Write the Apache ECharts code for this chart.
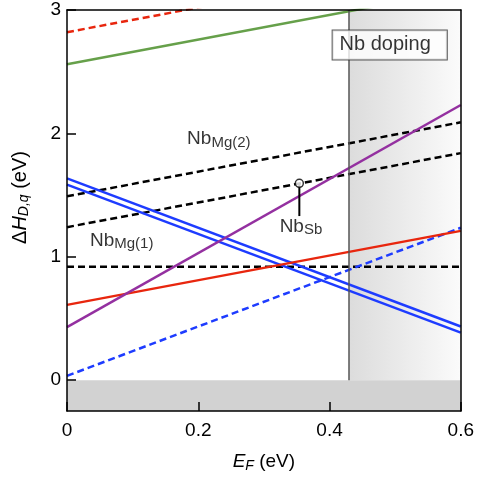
<!DOCTYPE html>
<html>
<head>
<meta charset="utf-8">
<script src="https://cdn.jsdelivr.net/npm/echarts@6/dist/echarts.min.js"></script>
<style>html,body{margin:0;padding:0;background:#fff}#c{width:477px;height:478px}</style>
</head>
<body>
<div id="c"></div>
<script>
// ---- data ----
const xEnds = [0, 0.6];                 // E_F range (eV)
const redDashed   = [2.82, 3.42];
const greenSolid  = [2.56, 3.16];
const nbMg2Upper  = [1.49, 2.09];
const nbMg2Lower  = [1.24, 1.84];
const nbMg1       = [0.92, 0.92];
const blueSolidA  = [1.635, 0.435];
const blueSolidB  = [1.585, 0.385];
const blueDashed  = [0.035, 1.235];
const redSolid    = [0.61, 1.21];
const purpleSolid = [0.43, 2.23];
const nbSbPoint   = [0.354, 1.595];
const nbSbPointerEnd = [0.354, 1.33];
const dopingStart = 0.43;
const xTicks = [0, 0.2, 0.4, 0.6];
const yTicks = [0, 1, 2, 3];
const labelNames = ['Nb_Mg(2)', 'Nb_Mg(1)', 'Nb_Sb', 'Nb doping'];
const labelPos = [[0.183, 1.955], [0.035, 1.13], [0.324, 1.245], [0.4917, 2.717]];

const FONT = '"Liberation Sans", Arial, Helvetica, sans-serif';

function pts(ys) { return xEnds.map((x, i) => [x, ys[i]]); }
function lineSeries(name, ys, color, dashed) {
  return {
    name, type: 'line', data: pts(ys), symbol: 'none', clip: true, z: 3,
    lineStyle: { color, width: 2.5, type: dashed ? [7, 4] : 'solid' },
    silent: true
  };
}

const chart = echarts.init(document.getElementById('c'), null, { renderer: 'canvas' });

const richMain = {
  m: { fontSize: 19, fontFamily: FONT, color: '#000', lineHeight: 22 },
  s: { fontSize: 15, fontFamily: FONT, color: '#000', lineHeight: 14, verticalAlign: 'bottom' }
};
function fmtLabel(n) {
  if (n === 'Nb doping') return n;
  const parts = n.split('_');
  return '{m|' + parts[0] + '}{s|' + parts[1] + '}';
}

const option = {
  animation: false,
  backgroundColor: '#fff',
  grid: { left: 67, right: 14, top: 10, bottom: 66, containLabel: false },
  xAxis: [{
    type: 'value', min: xEnds[0], max: xEnds[1], z: 10,
    name: '{i|E}{is|F}{n| (eV)}',
    nameLocation: 'middle', nameGap: 40,
    nameTextStyle: {
      rich: {
        i: { fontSize: 19, fontFamily: FONT, fontStyle: 'italic', color: '#000', lineHeight: 22 },
        is: { fontSize: 14, fontFamily: FONT, fontStyle: 'italic', color: '#000', lineHeight: 13, verticalAlign: 'bottom' },
        n: { fontSize: 19, fontFamily: FONT, color: '#000', lineHeight: 22 }
      }
    },
    axisLine: { show: true, onZero: false, lineStyle: { color: '#000', width: 1.5 } },
    axisTick: { show: true, inside: true, length: 9, customValues: xTicks, lineStyle: { color: '#000', width: 1.5 } },
    axisLabel: { customValues: xTicks, fontSize: 19, fontFamily: FONT, color: '#000', margin: 10,
      formatter: v => (v === 0 ? '0' : String(+v.toFixed(1))) },
    splitLine: { show: false }
  }, {
    type: 'value', position: 'top', min: xEnds[0], max: xEnds[1], z: 10,
    axisLine: { show: true, onZero: false, lineStyle: { color: '#000', width: 1.5 } },
    axisTick: { show: false }, axisLabel: { show: false }, splitLine: { show: false }
  }],
  yAxis: [{
    type: 'value', min: -0.25, max: 3, z: 10,
    name: '{d|Δ}{h|H}{hs|D,q}{n| (eV)}',
    nameLocation: 'middle', nameGap: 36, nameRotate: 90,
    nameTextStyle: {
      padding: [0, 0, 0, 26],
      rich: {
        d: { fontSize: 20, fontFamily: FONT, color: '#000', lineHeight: 22 },
        h: { fontSize: 20, fontFamily: FONT, fontStyle: 'italic', color: '#000', lineHeight: 22 },
        hs: { fontSize: 14, fontFamily: FONT, fontStyle: 'italic', color: '#000', lineHeight: 13, verticalAlign: 'bottom' },
        n: { fontSize: 20, fontFamily: FONT, color: '#000', lineHeight: 22 }
      }
    },
    axisLine: { show: true, onZero: false, lineStyle: { color: '#000', width: 1.5 } },
    axisTick: { show: true, inside: true, length: 9, customValues: yTicks, lineStyle: { color: '#000', width: 1.5 } },
    axisLabel: { customValues: yTicks, fontSize: 19, fontFamily: FONT, color: '#000', margin: 6 },
    splitLine: { show: false }
  }, {
    type: 'value', position: 'right', min: -0.25, max: 3, z: 10,
    axisLine: { show: true, onZero: false, lineStyle: { color: '#000', width: 1.5 } },
    axisTick: { show: false }, axisLabel: { show: false }, splitLine: { show: false }
  }],
  series: [
    {
      name: 'regions', type: 'line', data: [], z: 1, silent: true,
      markArea: {
        silent: true,
        data: [
          [{ xAxis: dopingStart, yAxis: 0, itemStyle: {
              color: new echarts.graphic.LinearGradient(0, 0, 1, 0, [
                { offset: 0, color: '#dcdcdc' }, { offset: 1, color: '#fbfbfb' }]) } },
           { xAxis: xEnds[1], yAxis: 3 }],
          [{ xAxis: xEnds[0], yAxis: -0.25, itemStyle: { color: '#d2d2d2' } },
           { xAxis: xEnds[1], yAxis: 0 }]
        ]
      },
      markLine: {
        silent: true, symbol: 'none', label: { show: false },
        lineStyle: { color: '#555', width: 1.5, type: 'solid' },
        data: [[{ coord: [dopingStart, 0] }, { coord: [dopingStart, 3] }]]
      }
    },
    lineSeries('redDashed', redDashed, '#e8260e', true),
    lineSeries('greenSolid', greenSolid, '#66a04a', false),
    lineSeries('nbMg2Upper', nbMg2Upper, '#000', true),
    lineSeries('nbMg2Lower', nbMg2Lower, '#000', true),
    lineSeries('nbMg1', nbMg1, '#000', true),
    lineSeries('blueSolidA', blueSolidA, '#1e3cff', false),
    lineSeries('blueSolidB', blueSolidB, '#1e3cff', false),
    lineSeries('blueDashed', blueDashed, '#1e3cff', true),
    lineSeries('redSolid', redSolid, '#e8260e', false),
    lineSeries('purpleSolid', purpleSolid, '#9430a0', false),
    {
      name: 'nbSbPointer', type: 'line', data: [nbSbPoint, nbSbPointerEnd], symbol: 'none', z: 4, silent: true,
      lineStyle: { color: '#000', width: 2 }
    },
    {
      name: 'nbSbPoint', type: 'scatter', data: [nbSbPoint], symbol: 'circle', symbolSize: 8, z: 5, silent: true,
      itemStyle: { color: '#fff', borderColor: '#000', borderWidth: 1.5 }
    },
    {
      name: 'labels', type: 'scatter', symbolSize: 0, z: 6, silent: true,
      data: labelNames.map((n, i) => ({
        value: labelPos[i], name: n,
        label: n === 'Nb doping' ? {
          show: true, position: 'inside', formatter: n,
          fontSize: 20, fontFamily: FONT, color: '#000',
          backgroundColor: '#fff', borderColor: '#333', borderWidth: 1,
          padding: [5, 16, 4, 7]
        } : {
          show: true, position: 'right', distance: 0, formatter: fmtLabel(n), color: '#000', rich: richMain
        }
      }))
    }
  ]
};
chart.setOption(option);
</script>
</body>
</html>
